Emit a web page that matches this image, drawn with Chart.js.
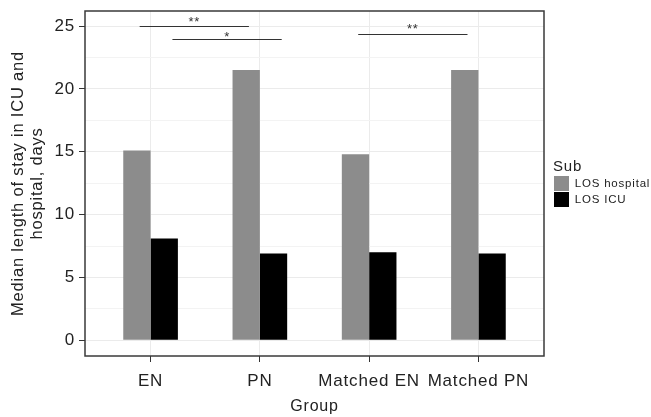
<!DOCTYPE html>
<html>
<head>
<meta charset="utf-8">
<script src="https://cdn.jsdelivr.net/npm/chart.js@4.4.0/dist/chart.umd.min.js"></script>
<style>
  html, body { margin: 0; padding: 0; background: #fff; }
  #wrap { width: 651px; height: 417px; }
</style>
</head>
<body>
<div id="wrap"><canvas id="myChart"></canvas></div>
<script>
const groups = ['EN', 'PN', 'Matched EN', 'Matched PN'];
const losHospital = [15.1, 21.5, 14.8, 21.5];
const losIcu = [8.1, 6.9, 7.0, 6.9];

// significance bars (group positions), bar height, star height, label
const sigFrom = [-0.1, 0.2, 1.9];
const sigTo = [0.9, 1.2, 2.9];
const sigY = [25.0, 24.0, 24.35];
const sigStarY = [25.6, 24.4, 25.0];
const sigLabel = ['**', '*', '**'];

Chart.defaults.font.family = "'Liberation Sans', Arial, sans-serif";
Chart.defaults.color = '#222';

// the original text is set a bit loose
const spacingPlugin = {
  id: 'spacing',
  beforeLayout(chart) { chart.ctx.letterSpacing = '0.8px'; },
  beforeDraw(chart) { chart.ctx.letterSpacing = '0.8px'; }
};

const sigPlugin = {
  id: 'sig',
  afterDatasetsDraw(chart) {
    const {ctx, chartArea, scales: {x, y}} = chart;
    ctx.save();
    ctx.strokeStyle = '#333';
    ctx.lineWidth = 1;
    ctx.fillStyle = '#333';
    ctx.font = "13px 'Liberation Sans', Arial, sans-serif";
    ctx.textAlign = 'center';
    ctx.textBaseline = 'alphabetic';
    sigFrom.forEach((f, i) => {
      const yy = Math.round(y.getPixelForValue(sigY[i])) + 0.5;
      ctx.beginPath();
      ctx.moveTo(x.getPixelForValue(f), yy);
      ctx.lineTo(x.getPixelForValue(sigTo[i]), yy);
      ctx.stroke();
      // star glyph sits high in the em box, shift baseline down
      ctx.fillText(sigLabel[i], x.getPixelForValue((f + sigTo[i]) / 2), y.getPixelForValue(sigStarY[i]) + 7.4);
    });
    // panel border
    ctx.strokeStyle = '#3a3a3a';
    ctx.lineWidth = 1.5;
    ctx.strokeRect(chartArea.left, chartArea.top, chartArea.right - chartArea.left, chartArea.bottom - chartArea.top);
    ctx.restore();
  }
};

const ctx = document.getElementById('myChart').getContext('2d');

const myChart = new Chart(ctx, {
  type: 'bar',
  data: {
    datasets: [{
      label: 'LOS hospital',
      data: losHospital.map((v, i) => ({x: i, y: v})),
      backgroundColor: '#8c8c8c',
      categoryPercentage: 0.5,
      barPercentage: 1
    }, {
      label: 'LOS ICU',
      data: losIcu.map((v, i) => ({x: i, y: v})),
      backgroundColor: '#000000',
      categoryPercentage: 0.5,
      barPercentage: 1
    }]
  },
  options: {
    responsive: true,
    maintainAspectRatio: false,
    animation: false,
    layout: { padding: { top: 11, left: 0, right: 0, bottom: 0 } },
    plugins: {
      tooltip: { enabled: false },
      legend: {
        position: 'right',
        align: 'center',
        fullSize: false,
        maxWidth: 98,
        title: {
          display: true,
          text: 'Sub',
          position: 'start',
          font: { size: 15, lineHeight: 1 },
          color: '#222',
          padding: { top: 0, bottom: 1 }
        },
        labels: {
          boxWidth: 15,
          boxHeight: 15,
          padding: 1,
          font: { size: 11.5 },
          color: '#222'
        }
      }
    },
    scales: {
      x: {
        type: 'linear',
        offset: false,
        min: -0.6,
        max: 3.6,
        ticks: {
          stepSize: 1,
          includeBounds: false,
          autoSkip: false,
          maxRotation: 0,
          padding: 9,
          font: { size: 17 },
          color: '#222',
          callback: v => groups[v] ?? ''
        },
        grid: { offset: false, color: '#ebebeb', tickColor: '#333', tickLength: 6 },
        border: { display: false },
        title: { display: true, text: 'Group', font: { size: 16 }, color: '#222', padding: { top: 0, bottom: 1 } },
        afterFit: s => { s.height = 61; s.paddingLeft = 0; s.paddingRight = 0; }
      },
      y: {
        min: -1.25,
        max: 26.2,
        ticks: {
          stepSize: 2.5,
          includeBounds: false,
          padding: 4,
          font: { size: 17 },
          color: '#222',
          callback: v => (v % 5 === 0 ? v : '')
        },
        grid: {
          color: c => (c.tick && c.tick.value % 5 === 0 ? '#ebebeb' : '#f3f3f3'),
          tickColor: c => (c.tick && c.tick.value % 5 === 0 ? '#333' : 'rgba(0,0,0,0)'),
          tickLength: 6
        },
        border: { display: false },
        title: {
          display: true,
          text: ['Median length of stay in ICU and', 'hospital, days'],
          font: { size: 16.5, lineHeight: 1.15 },
          color: '#222',
          padding: { top: 9, bottom: 0 }
        },
        afterFit: s => { s.width = 85; s.paddingTop = 0; s.paddingBottom = 0; }
      },
      gap: {
        type: 'linear',
        position: 'right',
        display: true,
        ticks: { display: false },
        grid: { display: false },
        border: { display: false },
        afterFit: s => { s.width = 9; }
      }
    }
  },
  plugins: [spacingPlugin, sigPlugin]
});
</script>
</body>
</html>
